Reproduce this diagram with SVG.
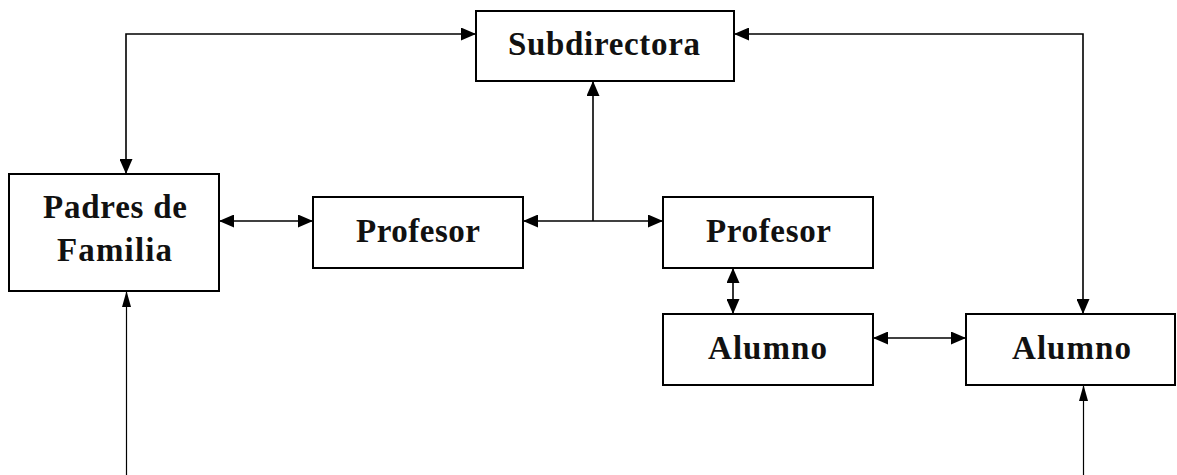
<svg xmlns="http://www.w3.org/2000/svg" width="1177" height="475" viewBox="0 0 1177 475">
<defs>
<style>
.box{fill:#fff;stroke:#000;stroke-width:2}
.lbl{font-family:"Liberation Serif","DejaVu Serif",serif;font-weight:bold;font-size:33px;fill:#111}
.c{fill:none;stroke:#000;stroke-width:1.6}
.thin{fill:none;stroke:#000;stroke-width:1.2}
</style>
<marker id="ah" markerUnits="userSpaceOnUse" markerWidth="15" markerHeight="13" refX="15" refY="6.5" orient="auto-start-reverse"><path d="M0,0 L15,6.5 L0,13 z" fill="#000"/></marker>
<marker id="ahn" markerUnits="userSpaceOnUse" markerWidth="16" markerHeight="9" refX="16" refY="4.5" orient="auto-start-reverse"><path d="M0,0 L16,4.5 L0,9 z" fill="#000"/></marker>
</defs>
<g id="connectors">
<path class="c" d="M476,34 H126 V174" marker-start="url(#ah)" marker-end="url(#ah)"/>
<path class="c" d="M734,34 H1083 V314" marker-start="url(#ah)" marker-end="url(#ah)"/>
<path class="c" d="M219,221 H313" marker-start="url(#ah)" marker-end="url(#ah)"/>
<path class="c" d="M523,221 H663" marker-start="url(#ah)" marker-end="url(#ah)"/>
<path class="c" d="M593,221 V81" marker-end="url(#ah)"/>
<path class="c" d="M733,268 V314" marker-start="url(#ah)" marker-end="url(#ah)"/>
<path class="c" d="M873,338 H966" marker-start="url(#ah)" marker-end="url(#ah)"/>
<path class="thin" d="M126.5,475 V291" marker-end="url(#ahn)"/>
<path class="thin" d="M1083.5,475 V385" marker-end="url(#ahn)"/>
</g>
<g id="subdirectora">
<rect class="box" x="476" y="11" width="258" height="70"/>
<text class="lbl" x="508" y="55" textLength="192" lengthAdjust="spacing">Subdirectora</text>
</g>
<g id="padres">
<rect class="box" x="9" y="174" width="210" height="117"/>
<text class="lbl" x="43" y="218" textLength="144" lengthAdjust="spacing">Padres de</text>
<text class="lbl" x="57" y="261" textLength="115" lengthAdjust="spacing">Familia</text>
</g>
<g id="profesor1">
<rect class="box" x="313" y="197" width="210" height="71"/>
<text class="lbl" x="356" y="242" textLength="124" lengthAdjust="spacing">Profesor</text>
</g>
<g id="profesor2">
<rect class="box" x="663" y="197" width="210" height="71"/>
<text class="lbl" x="706" y="242" textLength="125" lengthAdjust="spacing">Profesor</text>
</g>
<g id="alumno1">
<rect class="box" x="663" y="314" width="210" height="71"/>
<text class="lbl" x="708" y="359" textLength="119" lengthAdjust="spacing">Alumno</text>
</g>
<g id="alumno2">
<rect class="box" x="966" y="314" width="209" height="71"/>
<text class="lbl" x="1012" y="359" textLength="119" lengthAdjust="spacing">Alumno</text>
</g>
</svg>
